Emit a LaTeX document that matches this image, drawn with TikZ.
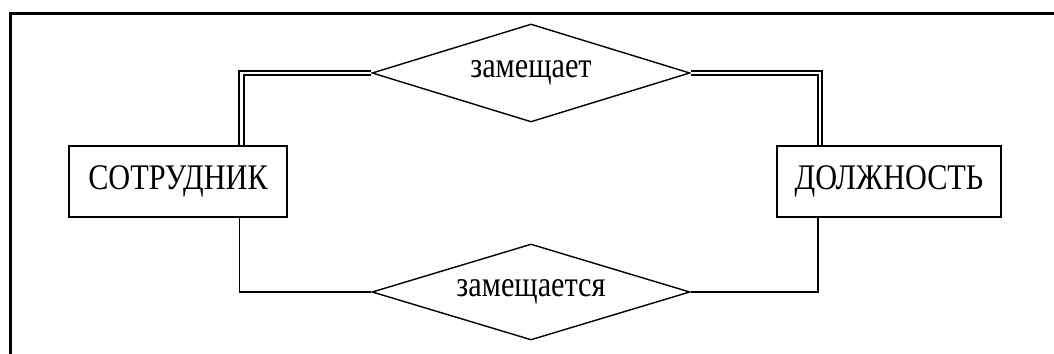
\documentclass[tikz,border=0pt]{standalone}
\usepackage{fontspec}
\setmainfont[FakeStretch=0.84]{Liberation Serif}
\usetikzlibrary{shapes.geometric,calc}

\begin{document}
\begin{tikzpicture}[x=0.02cm,y=-0.02cm,line width=0.8pt,
    entity/.style={draw,rectangle,minimum height=1.42cm,inner sep=0pt},
    relation/.style={draw,diamond,aspect=3.3,minimum width=6.36cm,inner sep=0pt},
    every node/.style={font=\fontsize{20.5}{24}\selectfont}]
    \useasboundingbox (0,0) rectangle (1054,354);
    % frame
    \draw[line width=1.15pt] (10.5,354) -- (10.5,13.5) -- (1054,13.5);
    \node[entity,minimum width=4.36cm] (sotr) at (178,181.5) {СОТРУДНИК};
    \node[entity,minimum width=4.48cm] (dolzh) at (889,181.5) {ДОЛЖНОСТЬ};
    \node[relation,minimum height=1.96cm] (zam) at (531,73) {\raisebox{-0.15em}{замещает}};
    \node[relation,minimum height=1.92cm] (zams) at (531,292) {\raisebox{-0.15em}{замещается}};
    \draw[line width=1pt,double,double distance=1.6pt] (zam.west) -| ($(sotr.north)+(63.5,0)$);
    \draw[line width=1pt,double,double distance=1.6pt] (zam.east) -| ($(dolzh.north)+(-69,0)$);
    \draw (zams.west) -| ($(sotr.south)+(61.5,0)$);
    \draw (zams.east) -| ($(dolzh.south)+(-71,0)$);
\end{tikzpicture}
\end{document}
